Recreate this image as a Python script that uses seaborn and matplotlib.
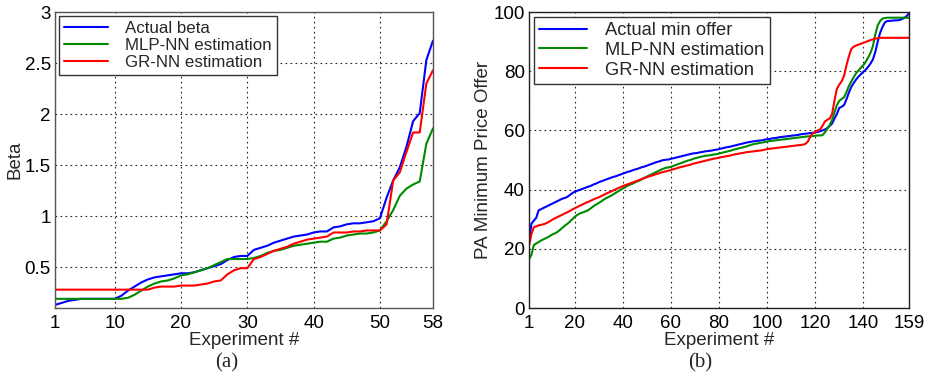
import numpy as np
import pandas as pd
import matplotlib
matplotlib.use("Agg")
import matplotlib.pyplot as plt
import seaborn as sns

# ---------------- data: panel (a) ----------------
beta_actual = [0.13, 0.15, 0.17, 0.18, 0.19, 0.19, 0.19, 0.19, 0.19, 0.19,
               0.22, 0.27, 0.31, 0.35, 0.38, 0.40, 0.41, 0.42, 0.43, 0.44,
               0.44, 0.45, 0.47, 0.49, 0.51, 0.53, 0.57, 0.60, 0.61, 0.61,
               0.67, 0.69, 0.71, 0.74, 0.76, 0.78, 0.80, 0.81, 0.82, 0.84,
               0.85, 0.85, 0.89, 0.90, 0.92, 0.93, 0.93, 0.94, 0.95, 0.98,
               1.18, 1.35, 1.48, 1.68, 1.93, 2.01, 2.53, 2.72]
beta_mlp = [0.19, 0.19, 0.19, 0.19, 0.19, 0.19, 0.19, 0.19, 0.19, 0.19,
            0.19, 0.20, 0.23, 0.27, 0.31, 0.34, 0.36, 0.37, 0.39, 0.42,
            0.43, 0.45, 0.47, 0.49, 0.52, 0.55, 0.58, 0.58, 0.58, 0.58,
            0.59, 0.61, 0.64, 0.66, 0.67, 0.69, 0.71, 0.72, 0.73, 0.74,
            0.75, 0.75, 0.78, 0.79, 0.81, 0.82, 0.83, 0.83, 0.84, 0.86,
            0.95, 1.06, 1.20, 1.27, 1.31, 1.34, 1.71, 1.86]
beta_gr = [0.28, 0.28, 0.28, 0.28, 0.28, 0.28, 0.28, 0.28, 0.28, 0.28,
           0.28, 0.28, 0.28, 0.28, 0.28, 0.30, 0.31, 0.31, 0.31, 0.32,
           0.32, 0.32, 0.33, 0.34, 0.36, 0.37, 0.43, 0.47, 0.49, 0.49,
           0.58, 0.60, 0.63, 0.66, 0.68, 0.70, 0.73, 0.75, 0.77, 0.78,
           0.79, 0.80, 0.84, 0.84, 0.84, 0.85, 0.85, 0.86, 0.86, 0.86,
           0.92, 1.35, 1.43, 1.63, 1.82, 1.82, 2.30, 2.43]
xticks_a = [1, 10, 20, 30, 40, 50, 58]
yticks_a = [0.5, 1, 1.5, 2, 2.5, 3]
yticklabels_a = ["0.5", "1", "1.5", "2", "2.5", "3"]
labels_a = ["Actual beta", "MLP-NN estimation", "GR-NN estimation"]

# ---------------- data: panel (b) ----------------
offer_actual = [
    22.5, 28.5, 29.5, 30.5, 33.0, 33.4, 33.8, 34.2, 34.6, 35.0,
    35.4, 35.8, 36.2, 36.6, 37.0, 37.2, 37.6, 38.2, 38.8, 39.3,
    39.6, 39.9, 40.2, 40.5, 40.8, 41.1, 41.4, 41.8, 42.1, 42.5,
    42.8, 43.1, 43.4, 43.7, 44.0, 44.3, 44.5, 44.8, 45.1, 45.4,
    45.7, 46.0, 46.2, 46.5, 46.8, 47.0, 47.3, 47.6, 47.8, 48.1,
    48.4, 48.7, 49.0, 49.3, 49.5, 49.8, 50.0, 50.1, 50.2, 50.4,
    50.6, 50.8, 51.0, 51.2, 51.4, 51.6, 51.8, 52.0, 52.2, 52.3,
    52.4, 52.6, 52.7, 52.9, 53.0, 53.1, 53.2, 53.4, 53.5, 53.7,
    53.9, 54.1, 54.3, 54.4, 54.6, 54.8, 55.0, 55.2, 55.4, 55.6,
    55.8, 56.0, 56.1, 56.3, 56.4, 56.5, 56.6, 56.7, 56.9, 57.0,
    57.1, 57.3, 57.4, 57.5, 57.7, 57.8, 57.9, 58.0, 58.1, 58.2,
    58.3, 58.4, 58.5, 58.7, 58.8, 58.9, 59.0, 59.1, 59.2, 59.3,
    59.5, 59.7, 60.0, 60.3, 60.8, 61.5, 62.3, 64.0, 65.5, 67.6,
    68.0, 68.6, 70.5, 72.8, 74.7, 76.0, 77.2, 78.2, 79.0, 79.8,
    80.5, 81.5, 82.6, 84.0, 86.5, 90.0, 93.0, 95.0, 96.5, 97.0,
    97.0, 97.1, 97.2, 97.2, 97.3, 97.6, 98.0, 98.6, 99.6]
offer_mlp = [
    16.5, 18.0, 21.3, 21.8, 22.3, 22.8, 23.2, 23.6, 24.0, 24.5,
    25.0, 25.3, 25.8, 26.5, 27.2, 27.9, 28.5, 29.2, 30.0, 30.8,
    31.4, 31.9, 32.2, 32.5, 32.8, 33.3, 33.9, 34.5, 35.0, 35.5,
    36.0, 36.6, 37.1, 37.5, 37.9, 38.4, 38.9, 39.4, 39.9, 40.4,
    40.8, 41.3, 41.7, 42.0, 42.4, 42.8, 43.1, 43.6, 44.0, 44.4,
    44.8, 45.2, 45.6, 46.0, 46.4, 46.8, 47.1, 47.4, 47.5, 47.7,
    48.0, 48.3, 48.6, 48.9, 49.2, 49.5, 49.8, 50.0, 50.3, 50.6,
    50.8, 51.0, 51.2, 51.4, 51.5, 51.6, 51.7, 51.9, 52.0, 52.2,
    52.4, 52.6, 52.8, 53.0, 53.2, 53.5, 53.7, 53.9, 54.1, 54.3,
    54.5, 54.8, 55.0, 55.3, 55.5, 55.6, 55.8, 55.9, 56.1, 56.2,
    56.4, 56.5, 56.6, 56.7, 56.8, 56.9, 57.0, 57.1, 57.2, 57.3,
    57.4, 57.5, 57.6, 57.7, 57.8, 57.9, 58.0, 58.0, 58.1, 58.2,
    58.3, 58.3, 58.4, 59.3, 60.5, 61.7, 63.5, 66.0, 68.5, 70.0,
    70.6, 71.2, 73.0, 75.0, 76.5, 78.0, 79.3, 80.3, 81.2, 82.0,
    83.2, 84.6, 86.2, 88.5, 92.5, 95.5, 97.0, 97.8, 98.0, 98.1,
    98.1, 98.1, 98.1, 98.1, 98.1, 98.1, 98.1, 98.1, 98.1]
offer_gr = [
    21.0, 25.0, 27.3, 27.6, 27.9, 28.1, 28.3, 28.6, 29.0, 29.5,
    30.0, 30.4, 30.8, 31.2, 31.6, 32.0, 32.4, 32.8, 33.3, 33.7,
    34.1, 34.5, 34.9, 35.3, 35.7, 36.0, 36.4, 36.8, 37.1, 37.4,
    37.8, 38.2, 38.6, 39.0, 39.3, 39.7, 40.1, 40.5, 40.8, 41.2,
    41.5, 41.8, 42.1, 42.4, 42.7, 43.0, 43.3, 43.6, 43.9, 44.2,
    44.5, 44.7, 45.0, 45.3, 45.5, 45.8, 46.0, 46.2, 46.4, 46.6,
    46.9, 47.1, 47.4, 47.6, 47.8, 48.0, 48.2, 48.4, 48.7, 48.9,
    49.1, 49.3, 49.5, 49.7, 49.9, 50.1, 50.3, 50.5, 50.6, 50.8,
    51.0, 51.1, 51.3, 51.4, 51.6, 51.8, 52.0, 52.1, 52.3, 52.4,
    52.6, 52.7, 52.8, 52.9, 53.0, 53.1, 53.2, 53.3, 53.5, 53.7,
    53.8, 53.9, 54.0, 54.1, 54.2, 54.3, 54.4, 54.5, 54.6, 54.7,
    54.8, 54.9, 55.0, 55.1, 55.2, 55.5, 56.3, 58.0, 59.0, 59.5,
    60.0, 60.3, 61.5, 63.0, 63.6, 64.0, 65.5, 70.0, 74.0, 75.5,
    76.6, 78.5, 82.0, 85.0, 87.5, 88.3, 88.7, 89.0, 89.3, 89.6,
    89.9, 90.2, 90.5, 90.8, 91.0, 91.2, 91.3, 91.3, 91.3, 91.3,
    91.3, 91.3, 91.3, 91.3, 91.3, 91.3, 91.3, 91.3, 91.3]
xticks_b = [1, 20, 40, 60, 80, 100, 120, 140, 159]
yticks_b = [0, 20, 40, 60, 80, 100]
labels_b = ["Actual min offer", "MLP-NN estimation", "GR-NN estimation"]

assert len(beta_actual) == len(beta_mlp) == len(beta_gr) == 58
assert len(offer_actual) == len(offer_mlp) == len(offer_gr) == 159

colors = ["#0000ff", "#008a00", "#ff0000"]

sns.set_theme(style="white")
plt.rcParams["font.family"] = ["Liberation Sans", "DejaVu Sans"]
plt.rcParams["axes.linewidth"] = 1.0

fig = plt.figure(figsize=(9.37, 3.77), dpi=100)
ax1 = fig.add_axes([0.0587, 0.183, 0.4034, 0.785])
ax2 = fig.add_axes([0.5646, 0.183, 0.4055, 0.785])

FS_TICK = 13.5
FS_LAB = 13.5


def draw(ax, series, labels, xticks, yticks, yticklabels, xlim, ylim, ylabel,
         spine_color, fs_leg, lspace):
    n = len(series[0])
    x = np.arange(1, n + 1)
    for vals, lab, col in zip(series, labels, colors):
        df = pd.DataFrame({"x": x, "y": vals})
        sns.lineplot(data=df, x="x", y="y", ax=ax, color=col, label=lab,
                     linewidth=1.5, legend=False)
    ax.set_xlim(*xlim)
    ax.set_ylim(*ylim)
    ax.set_xticks(xticks)
    ax.set_xticklabels([str(t) for t in xticks])
    ax.set_yticks(yticks)
    ax.set_yticklabels(yticklabels)
    ax.grid(True, color="#222222", linestyle=(0, (1.5, 3)), linewidth=0.8)
    ax.tick_params(axis="both", direction="in", length=4, width=0.8,
                   labelsize=FS_TICK, pad=3, colors="black",
                   labelcolor="black")
    ax.tick_params(axis="x", pad=5)
    for s in ax.spines.values():
        s.set_color(spine_color)
        s.set_linewidth(1.0)
    ax.set_xlabel("Experiment #", fontsize=FS_LAB, labelpad=0)
    ax.set_ylabel(ylabel, fontsize=FS_LAB, labelpad=1)
    h, l = ax.get_legend_handles_labels()
    leg = ax.legend(h, l, loc="upper left", fontsize=fs_leg, frameon=True,
                    fancybox=False, framealpha=1, edgecolor="#333333",
                    handlelength=2.6, handletextpad=1.0, labelspacing=lspace,
                    borderpad=0.3, borderaxespad=0.25)
    leg.get_frame().set_linewidth(1.0)


draw(ax1, [beta_actual, beta_mlp, beta_gr], labels_a, xticks_a, yticks_a,
     yticklabels_a, (1, 58), (0.1, 3), "Beta", "#555555", 12.2, 0.1)
draw(ax2, [offer_actual, offer_mlp, offer_gr], labels_b, xticks_b, yticks_b,
     [str(t) for t in yticks_b], (1, 159), (0, 100), "PA Minimum Price Offer",
     "#222222", 13.2, 0.15)

fig.text(227 / 937, 1 - 363 / 377, "(a)", ha="center", va="center",
         fontsize=15, family=["Liberation Serif", "DejaVu Serif"])
fig.text(700 / 937, 1 - 363 / 377, "(b)", ha="center", va="center",
         fontsize=15, family=["Liberation Serif", "DejaVu Serif"])

fig.savefig("out.png", dpi=100)
